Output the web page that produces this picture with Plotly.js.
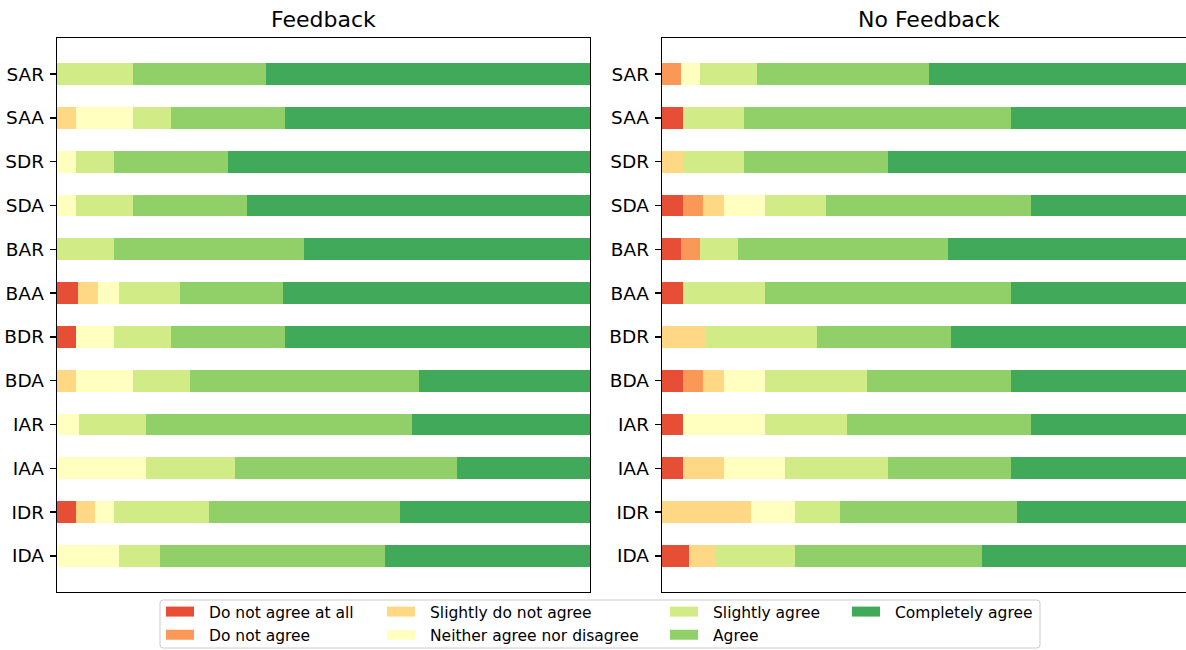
<!DOCTYPE html>
<html><head><meta charset="utf-8">
<script src="https://cdn.plot.ly/plotly-3.0.1.min.js"></script>
<style>html,body{margin:0;padding:0;overflow:hidden;background:#fff}#chart{width:1200px;height:650px}</style>
</head><body><div id="chart"></div><script>
// ---- data (respondent counts per answer level) ----
const categories = ['SAR','SAA','SDR','SDA','BAR','BAA','BDR','BDA','IAR','IAA','IDR','IDA'];
const levels = ['Do not agree at all','Do not agree','Slightly do not agree','Neither agree nor disagree','Slightly agree','Agree','Completely agree'];
const levelColors = ['#e64f35','#fa9857','#fed884','#ffffbf','#d1eb86','#91d068','#40aa5a'];
const panelTitles = ['Feedback','No Feedback'];

// Feedback
const fbDoNotAgreeAtAll    = [0,0,0,0,0,1,1,0,0,0,1,0];
const fbDoNotAgree         = [0,0,0,0,0,0,0,0,0,0,0,0];
const fbSlightlyDoNotAgree = [0,1,0,0,0,1,0,1,0,0,1,0];
const fbNeither            = [0,3,1,1,0,1,2,3,1,4,1,3];
const fbSlightlyAgree      = [4,2,2,3,3,3,3,3,3,4,5,2];
const fbAgree              = [7,6,6,6,10,5,6,12,12,10,10,11];
const fbCompletelyAgree    = [17,16,19,18,15,15,16,9,8,6,10,10];

// No Feedback
const nfDoNotAgreeAtAll    = [0,1,0,1,1,1,0,1,1,1,0,1];
const nfDoNotAgree         = [1,0,0,1,1,0,0,1,0,0,0,0];
const nfSlightlyDoNotAgree = [0,0,1,1,0,0,2,1,0,2,4,1];
const nfNeither            = [1,0,0,2,0,0,0,2,4,3,2,0];
const nfSlightlyAgree      = [3,3,3,3,2,4,5,5,4,5,2,3];
const nfAgree              = [9,13,7,10,11,12,6,7,9,6,8,7];
const nfCompletelyAgree    = [14,9,15,8,13,9,11,9,8,9,8,8];

const panels = [
  [fbDoNotAgreeAtAll, fbDoNotAgree, fbSlightlyDoNotAgree, fbNeither, fbSlightlyAgree, fbAgree, fbCompletelyAgree],
  [nfDoNotAgreeAtAll, nfDoNotAgree, nfSlightlyDoNotAgree, nfNeither, nfSlightlyAgree, nfAgree, nfCompletelyAgree]
];

// ---- layout geometry ----
const W = 1200, H = 650;
const px = x => x / W, py = y => 1 - y / H;
const FONT = 'DejaVu Sans, sans-serif';
const legendOfLevel = ['legend','legend','legend2','legend2','legend3','legend3','legend4'];
const legendRank = [1,2,1,2,1,2,1];

const traces = [];
panels.forEach((series, p) => {
  const totals = categories.map((c, j) => series.reduce((s, arr) => s + arr[j], 0));
  series.forEach((arr, i) => {
    traces.push({
      type: 'bar', orientation: 'h',
      y: categories,
      x: arr.map((v, j) => v / totals[j]),
      name: levels[i],
      marker: {color: levelColors[i], line: {width: 0}},
      xaxis: p ? 'x2' : 'x', yaxis: p ? 'y2' : 'y',
      showlegend: false,
      hoverinfo: 'name+y'
    });
  });
});
// legend-only entries (wide patch swatches like the reference)
levels.forEach((name, i) => {
  traces.push({
    type: 'scatter', mode: 'lines', x: [null], y: [null], name: name,
    line: {color: levelColors[i], width: 11, dash: '28px,60px'},
    xaxis: 'x', yaxis: 'y', showlegend: true,
    legend: legendOfLevel[i], legendrank: legendRank[i], hoverinfo: 'skip'
  });
});

const yRange = [categories.length - 1 + 0.825, -0.825];
const axisLine = {showline: true, mirror: true, linecolor: '#000', linewidth: 1.3, showgrid: false, zeroline: false};
function xAx(dom, anchor) {
  return Object.assign({domain: dom, anchor: anchor, range: [0, 1], showticklabels: false, ticks: ''}, axisLine);
}
function yAx(anchor) {
  return Object.assign({domain: [py(592), py(38)], anchor: anchor, type: 'category',
    categoryorder: 'array', categoryarray: categories, range: yRange,
    ticks: 'outside', ticklen: 6, tickwidth: 1.3, tickcolor: '#000', ticklabelstandoff: 2,
    tickfont: {family: FONT, size: 18.5, color: '#000'}}, axisLine);
}

function legendAt(xPix) {
  return {orientation: 'v', x: px(xPix), xanchor: 'left', y: py(595), yanchor: 'top',
    bgcolor: 'rgba(0,0,0,0)', borderwidth: 0, font: {family: FONT, size: 15.5, color: '#000'},
    traceorder: 'normal', tracegroupgap: 0, itemwidth: 38};
}

// legend frame (rounded rectangle) in paper coordinates
const bx0 = 160, bx1 = 1040, by0 = 600, by1 = 648, r = 3;
const P = (x, y) => px(x) + ',' + py(y);
const framePath = 'M' + P(bx0 + r, by0) + ' L' + P(bx1 - r, by0) + ' Q' + P(bx1, by0) + ' ' + P(bx1, by0 + r) +
  ' L' + P(bx1, by1 - r) + ' Q' + P(bx1, by1) + ' ' + P(bx1 - r, by1) +
  ' L' + P(bx0 + r, by1) + ' Q' + P(bx0, by1) + ' ' + P(bx0, by1 - r) +
  ' L' + P(bx0, by0 + r) + ' Q' + P(bx0, by0) + ' ' + P(bx0 + r, by0) + ' Z';

const layout = {
  width: W, height: H,
  margin: {l: 0, r: 0, t: 0, b: 0, autoexpand: false},
  paper_bgcolor: '#fff', plot_bgcolor: '#fff',
  font: {family: FONT, color: '#000'},
  barmode: 'stack', bargap: 0.5,
  xaxis: xAx([px(57), px(590)], 'y'),
  yaxis: yAx('x'),
  xaxis2: xAx([px(662), px(1195)], 'y2'),
  yaxis2: yAx('x2'),
  legend: legendAt(166 - 5),
  legend2: legendAt(387 - 5),
  legend3: legendAt(670 - 5),
  legend4: legendAt(852 - 5),
  shapes: [{type: 'path', xref: 'paper', yref: 'paper', path: framePath,
    line: {color: '#cccccc', width: 1}, fillcolor: 'rgba(255,255,255,0.8)', layer: 'below'}],
  annotations: panelTitles.map((t, k) => ({
    text: t, showarrow: false, xref: (k ? 'x2' : 'x') + ' domain', yref: (k ? 'y2' : 'y') + ' domain',
    x: 0.5, y: 1, xanchor: 'center', yanchor: 'bottom', yshift: 4,
    font: {family: FONT, size: 22, color: '#000'}
  }))
};

Plotly.newPlot('chart', traces, layout, {displayModeBar: false, staticPlot: true});
</script></body></html>
